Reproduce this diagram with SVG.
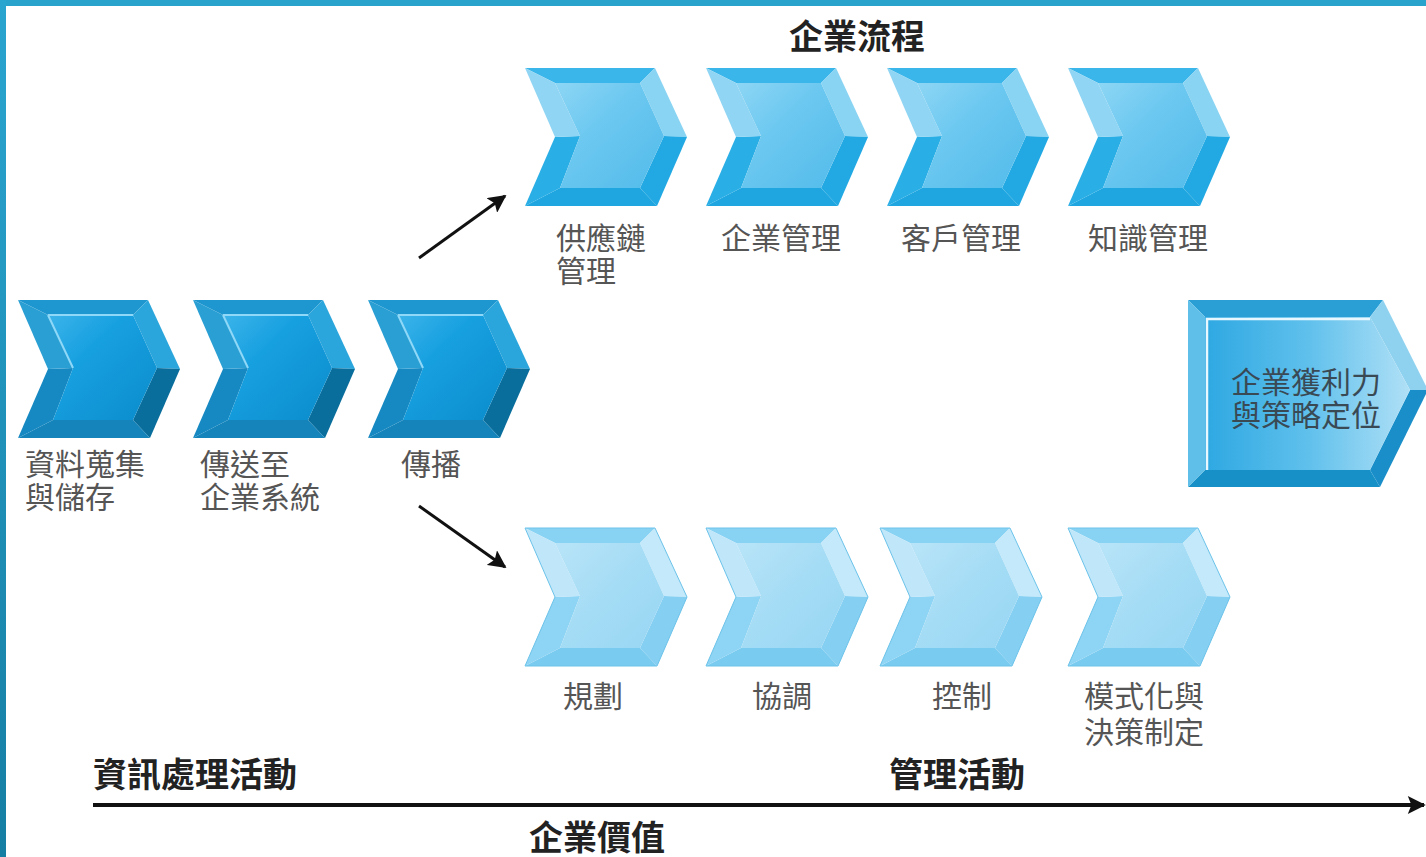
<svg xmlns="http://www.w3.org/2000/svg" width="1426" height="857" viewBox="0 0 1426 857">
<style>
.lbl{font-family:"Noto Sans CJK TC","Noto Sans CJK SC",sans-serif;font-size:30px;fill:#555;dominant-baseline:central}
.ttl{font-family:"Noto Sans CJK TC","Noto Sans CJK SC",sans-serif;font-size:34px;font-weight:bold;fill:#222;dominant-baseline:central}
.fin{font-family:"Noto Sans CJK TC","Noto Sans CJK SC",sans-serif;font-size:30px;fill:#3a4a55;dominant-baseline:central}
</style>
<defs>
<linearGradient id="gD" x1="0" y1="0" x2="1" y2="1"><stop offset="0" stop-color="#3cb4ea"/><stop offset="0.35" stop-color="#17a0e0"/><stop offset="1" stop-color="#0b8ccc"/></linearGradient>
<linearGradient id="gT" x1="0" y1="0" x2="1" y2="1"><stop offset="0" stop-color="#8dd6f5"/><stop offset="0.4" stop-color="#6cc8f0"/><stop offset="1" stop-color="#52bbea"/></linearGradient>
<linearGradient id="gB" x1="0" y1="0" x2="1" y2="1"><stop offset="0" stop-color="#b8e4f8"/><stop offset="0.5" stop-color="#a4dcf5"/><stop offset="1" stop-color="#98d6f3"/></linearGradient>
<linearGradient id="gF" x1="0" y1="0" x2="1" y2="0"><stop offset="0" stop-color="#2ea8e2"/><stop offset="0.5" stop-color="#5fc0ec"/><stop offset="1" stop-color="#b0e0f6"/></linearGradient>
<linearGradient id="gBorder" x1="0" y1="0" x2="0" y2="1"><stop offset="0" stop-color="#2aa5d0"/><stop offset="1" stop-color="#167ea3"/></linearGradient>
<g id="chD">
<polygon points="0,0 130,0 115,15 30,15" fill="#1e96cf"/>
<polygon points="130,0 162,69 139,68 115,15" fill="#2ba6dc"/>
<polygon points="162,69 132,138 115,120 139,68" fill="#0a6e9c"/>
<polygon points="132,138 0,138 35,120 115,120" fill="#1584bb"/>
<polygon points="0,138 30,69 55,68 35,120" fill="#1689c2"/>
<polygon points="30,69 0,0 30,15 55,68" fill="#2a9fd4"/>
<polygon points="30,15 115,15 139,68 115,120 35,120 55,68" fill="url(#gD)"/>
<polyline points="30,15 115,15" stroke="#8fd8f8" stroke-width="2" fill="none"/>
<polyline points="30,15 55,68" stroke="#8fd8f8" stroke-width="2" fill="none"/>
</g>
<g id="chT">
<polygon points="0,0 130,0 115,15 30,15" fill="#3ab6ea"/>
<polygon points="130,0 162,69 139,68 115,15" fill="#8ad4f3"/>
<polygon points="162,69 132,138 115,120 139,68" fill="#22a9e3"/>
<polygon points="132,138 0,138 35,120 115,120" fill="#1fa6e0"/>
<polygon points="0,138 30,69 55,68 35,120" fill="#2aaee6"/>
<polygon points="30,69 0,0 30,15 55,68" fill="#90d5f3"/>
<polygon points="30,15 115,15 139,68 115,120 35,120 55,68" fill="url(#gT)"/>
</g>
<g id="chB">
<polygon points="0,0 130,0 115,15 30,15" fill="#88d2f4"/>
<polygon points="130,0 162,69 139,68 115,15" fill="#c4e9fa"/>
<polygon points="162,69 132,138 115,120 139,68" fill="#84cff2"/>
<polygon points="132,138 0,138 35,120 115,120" fill="#7acbf0"/>
<polygon points="0,138 30,69 55,68 35,120" fill="#8ed4f4"/>
<polygon points="30,69 0,0 30,15 55,68" fill="#bfe6f9"/>
<polygon points="30,15 115,15 139,68 115,120 35,120 55,68" fill="url(#gB)"/>
<polygon points="0,0 130,0 162,69 132,138 0,138 30,69" fill="none" stroke="#6cc3ea" stroke-width="1"/>
</g>
<marker id="ah" viewBox="0 0 10 10" refX="9" refY="5" markerWidth="6" markerHeight="6" orient="auto" markerUnits="strokeWidth"><path d="M0,0 L10,5 L0,10 L2,5 z" fill="#111"/></marker>
<marker id="ah2" viewBox="0 0 10 10" refX="9" refY="5" markerWidth="6" markerHeight="4.5" orient="auto" markerUnits="strokeWidth"><path d="M0,0 L10,5 L0,10 L2,5 z" fill="#111"/></marker>
</defs>
<rect x="0" y="0" width="1426" height="857" fill="#fff"/>
<rect x="0" y="0" width="1426" height="6" fill="#29a3cc"/>
<rect x="0" y="0" width="6" height="857" fill="url(#gBorder)"/>

<g id="title-process"><text class="ttl" x="857" y="34" text-anchor="middle">企業流程</text></g>

<g id="n-collect"><use href="#chD" x="18" y="300"/><text class="lbl" x="25" y="462">資料蒐集<tspan x="25" dy="33">與儲存</tspan></text></g>
<g id="n-transfer"><use href="#chD" x="193" y="300"/><text class="lbl" x="200" y="462">傳送至<tspan x="200" dy="33">企業系統</tspan></text></g>
<g id="n-spread"><use href="#chD" x="368" y="300"/><text class="lbl" x="401" y="462">傳播</text></g>

<g id="n-scm"><use href="#chT" x="525" y="68"/><text class="lbl" x="556" y="236">供應鏈<tspan x="556" dy="33">管理</tspan></text></g>
<g id="n-erp"><use href="#chT" x="706" y="68"/><text class="lbl" x="721" y="236">企業管理</text></g>
<g id="n-crm"><use href="#chT" x="887" y="68"/><text class="lbl" x="901" y="236">客戶管理</text></g>
<g id="n-km"><use href="#chT" x="1068" y="68"/><text class="lbl" x="1088" y="236">知識管理</text></g>

<g id="n-plan"><use href="#chB" x="525" y="528"/><text class="lbl" x="563" y="694">規劃</text></g>
<g id="n-coord"><use href="#chB" x="706" y="528"/><text class="lbl" x="752" y="694">協調</text></g>
<g id="n-control"><use href="#chB" x="880" y="528"/><text class="lbl" x="932" y="694">控制</text></g>
<g id="n-model"><use href="#chB" x="1068" y="528"/><text class="lbl" x="1084" y="694">模式化與<tspan x="1084" dy="36">決策制定</tspan></text></g>

<g id="n-value" transform="translate(1188,300)">
<polygon points="0,0 195,0 182,17 17,17" fill="#2a9fd6"/>
<polygon points="195,0 240,90 222,90 182,17" fill="#8fd2f0"/>
<polygon points="240,90 192,187 182,170 222,90" fill="#1a8ec8"/>
<polygon points="192,187 0,187 17,170 182,170" fill="#1790c8"/>
<polygon points="0,187 0,0 17,17 17,170" fill="#5fbfe8"/>
<polygon points="17,17 182,17 222,90 182,170 17,170" fill="url(#gF)"/>
<polyline points="19,170 19,19 182,19" stroke="#e8f7fd" stroke-width="2.5" fill="none"/>
<text class="fin" x="43" y="80">企業獲利力<tspan x="43" dy="33">與策略定位</tspan></text>
</g>

<g id="labels-bottom">
<text class="ttl" x="93" y="772">資訊處理活動</text>
<text class="ttl" x="889" y="772">管理活動</text>
<text class="ttl" x="529" y="835">企業價值</text>
</g>

<g id="connectors" stroke="#111" fill="none">
<line x1="419" y1="258" x2="505" y2="196" stroke-width="3" marker-end="url(#ah)"/>
<line x1="419" y1="506" x2="505" y2="567" stroke-width="3" marker-end="url(#ah)"/>
<line x1="93" y1="805" x2="1424" y2="805" stroke-width="4" marker-end="url(#ah2)"/>
</g>
</svg>
